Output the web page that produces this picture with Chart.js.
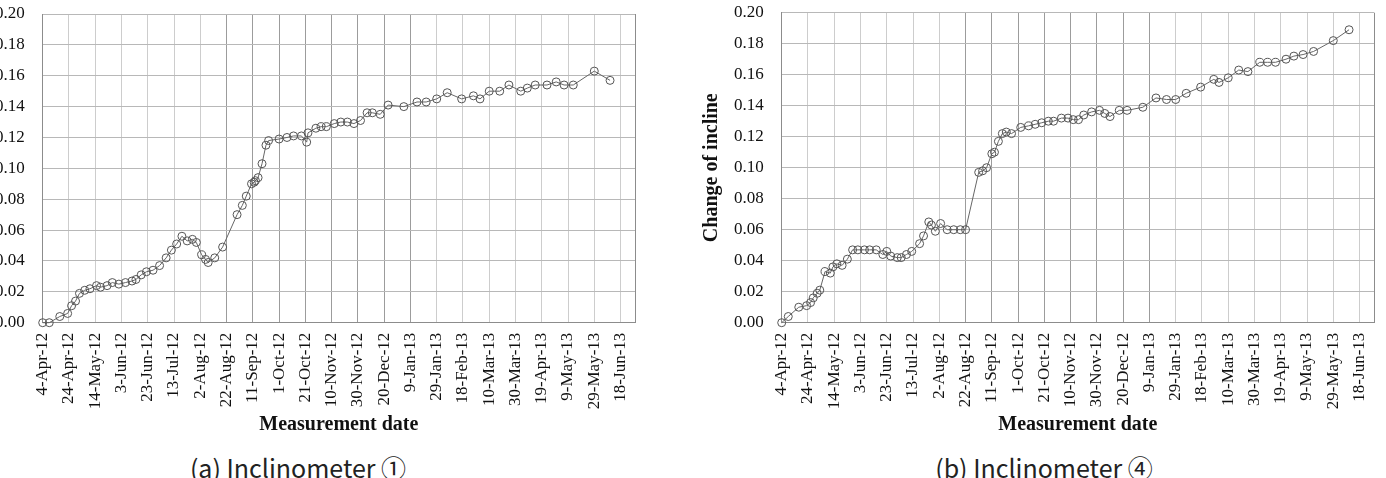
<!DOCTYPE html>
<html>
<head>
<meta charset="utf-8">
<script src="https://cdn.jsdelivr.net/npm/chart.js@4.4.1/dist/chart.umd.min.js"></script>
<style>
    html, body { margin: 0; padding: 0; background: #fff; width: 1386px; height: 478px; overflow: hidden; position: relative; }
    .box { position: absolute; top: 0; width: 686px; height: 440px; }
    #boxA { left: -39px; }
    #boxB { left: 700px; }
    .cap { position: absolute; top: 453px; line-height: 28px; font-family: "Noto Sans CJK KR", "Noto Sans", sans-serif;
           font-size: 25px; color: #222; white-space: nowrap; transform: translateX(-50%); }
</style>
</head>
<body>
<div class="box" id="boxA"><canvas id="chartA" width="686" height="440"></canvas></div>
<div class="box" id="boxB"><canvas id="chartB" width="686" height="440"></canvas></div>
<div class="cap" style="left:298px">(a) Inclinometer ①</div>
<div class="cap" style="left:1044px">(b) Inclinometer ④</div>

<script>
// ---------- Data ----------
// x = days since 4-Apr-12
const tickLabels = ["4-Apr-12", "24-Apr-12", "14-May-12", "3-Jun-12", "23-Jun-12", "13-Jul-12", "2-Aug-12",
    "22-Aug-12", "11-Sep-12", "1-Oct-12", "21-Oct-12", "10-Nov-12", "30-Nov-12", "20-Dec-12", "9-Jan-13",
    "29-Jan-13", "18-Feb-13", "10-Mar-13", "30-Mar-13", "19-Apr-13", "9-May-13", "29-May-13", "18-Jun-13"];
const yTicks = [0, 0.02, 0.04, 0.06, 0.08, 0.10, 0.12, 0.14, 0.16, 0.18, 0.20];
const X_MAX = 451;   // right edge of the plot (days)

// Inclinometer ①
const daysA = [0, 5, 13, 19, 22, 25, 28, 32, 36, 41, 44, 49, 53, 58, 63, 68, 71, 75, 79, 84,
    89, 94, 98, 102, 106, 110, 114, 117, 121, 124, 126, 131, 137, 148, 152, 155, 159, 161, 162, 164,
    167, 170, 172, 180, 186, 191, 197, 201, 202, 208, 212, 216, 222, 227, 232, 237, 242, 247, 251, 257,
    263, 275, 285, 292, 300, 308, 319, 328, 333, 340, 348, 355, 364, 369, 375, 384, 391, 397, 404, 420,
    432];
const valsA = [0.000, 0.000, 0.004, 0.006, 0.011, 0.014, 0.019, 0.021, 0.022, 0.024, 0.023, 0.024, 0.026, 0.025, 0.026, 0.027, 0.028, 0.031, 0.033, 0.034,
    0.037, 0.042, 0.047, 0.051, 0.056, 0.053, 0.054, 0.052, 0.044, 0.041, 0.039, 0.042, 0.049, 0.070, 0.076, 0.082, 0.090, 0.091, 0.092, 0.094,
    0.103, 0.115, 0.118, 0.119, 0.120, 0.121, 0.121, 0.117, 0.123, 0.126, 0.127, 0.127, 0.129, 0.130, 0.130, 0.129, 0.131, 0.136, 0.136, 0.135,
    0.141, 0.140, 0.143, 0.143, 0.145, 0.149, 0.145, 0.147, 0.145, 0.150, 0.150, 0.154, 0.150, 0.152, 0.154, 0.154, 0.156, 0.154, 0.154, 0.163,
    0.157];

// Inclinometer ④
const daysB = [0, 5, 13, 19, 22, 24, 27, 29, 33, 37, 39, 42, 46, 50, 54, 58, 63, 67, 72, 77,
    80, 83, 88, 91, 95, 99, 105, 108, 112, 114, 117, 121, 126, 131, 136, 140, 150, 153, 156, 160,
    162, 165, 168, 171, 175, 182, 188, 193, 198, 203, 207, 213, 218, 222, 226, 230, 236, 242, 246, 250,
    257, 263, 275, 285, 293, 300, 308, 319, 329, 333, 340, 348, 355, 364, 370, 376, 384, 390, 397, 405,
    420, 432];
const valsB = [0.000, 0.004, 0.010, 0.011, 0.013, 0.016, 0.019, 0.021, 0.033, 0.032, 0.036, 0.038, 0.037, 0.041, 0.047, 0.047, 0.047, 0.047, 0.047, 0.044,
    0.046, 0.043, 0.042, 0.042, 0.044, 0.046, 0.051, 0.056, 0.065, 0.063, 0.059, 0.064, 0.060, 0.060, 0.060, 0.060, 0.097, 0.098, 0.100, 0.109,
    0.110, 0.117, 0.122, 0.123, 0.122, 0.126, 0.127, 0.128, 0.129, 0.130, 0.130, 0.132, 0.132, 0.131, 0.131, 0.134, 0.136, 0.137, 0.135, 0.133,
    0.137, 0.137, 0.139, 0.145, 0.144, 0.144, 0.148, 0.152, 0.157, 0.155, 0.158, 0.163, 0.162, 0.168, 0.168, 0.168, 0.170, 0.172, 0.173, 0.175,
    0.182, 0.189];

// ---------- Chart ----------
const SERIF = "'Liberation Serif', 'Times New Roman', serif";
const $ = (q) => document.querySelector(q);
Chart.defaults.font.family = SERIF;
Chart.defaults.color = "#111";

// keep the plot box where it is in the picture (no extra room for edge labels)
const noPad = s => { s.paddingLeft = 0; s.paddingRight = 0; s.paddingTop = 0; s.paddingBottom = 0; };

function makeChart(canvas, days, vals, yTitle, padTop) {
    return new Chart(canvas, {
        type: "line",
        data: {
            datasets: [{
                data: days.map((d, i) => ({ x: d, y: vals[i] })),
                borderColor: "#666",
                borderWidth: 1,
                pointRadius: 4,
                pointBorderWidth: 1,
                pointBorderColor: "#555",
                pointBackgroundColor: "rgba(255,255,255,0)",
                tension: 0,
                clip: false
            }]
        },
        options: {
            responsive: false,
            animation: false,
            layout: { padding: { top: padTop, right: 12, bottom: 0, left: 0 } },
            plugins: { legend: { display: false }, tooltip: { enabled: false } },
            scales: {
                x: {
                    type: "linear",
                    min: 0,
                    max: X_MAX,
                    afterBuildTicks: s => { s.ticks = tickLabels.map((_, i) => ({ value: i * 20 })).concat([{ value: X_MAX }]); },
                    afterFit: s => { s.height = 440 - 322.7; noPad(s); },
                    grid: {
                        drawTicks: false,
                        color: c => (c.index >= 7 && c.index <= 14) ? "#9c9c9c" : (c.index === tickLabels.length ? "#8c8c8c" : "#cdcdcd"),
                        lineWidth: 1
                    },
                    border: { display: true, color: "#8c8c8c", width: 1 },
                    ticks: {
                        autoSkip: false, minRotation: 90, maxRotation: 90, padding: 10,
                        color: "#111", font: { family: SERIF, size: 17 },
                        callback: (v, i) => tickLabels[i] ?? ""
                    },
                    title: {
                        display: true, text: "Measurement date", color: "#111",
                        font: { family: SERIF, size: 20, weight: "bold" }, padding: { top: 0, bottom: 3 }
                    }
                },
                y: {
                    min: 0,
                    max: 0.2,
                    afterBuildTicks: s => { s.ticks = yTicks.map(v => ({ value: v })); },
                    afterFit: s => { s.width = 81.7; noPad(s); },
                    grid: { drawTicks: false, color: "#b8b8b8", lineWidth: 1 },
                    border: { display: true, color: "#8c8c8c", width: 1 },
                    ticks: {
                        padding: 18, color: "#111", font: { family: SERIF, size: 17 },
                        callback: v => v.toFixed(2)
                    },
                    title: {
                        display: !!yTitle, text: yTitle || "", color: "#111",
                        font: { family: SERIF, size: 20, weight: "bold" }, padding: { top: 0, bottom: 0 }
                    }
                }
            }
        }
    });
}

makeChart($("#chartA"), daysA, valsA, null, 14);
makeChart($("#chartB"), daysB, valsB, "Change of incline", 12.7);
</script>
</body>
</html>
